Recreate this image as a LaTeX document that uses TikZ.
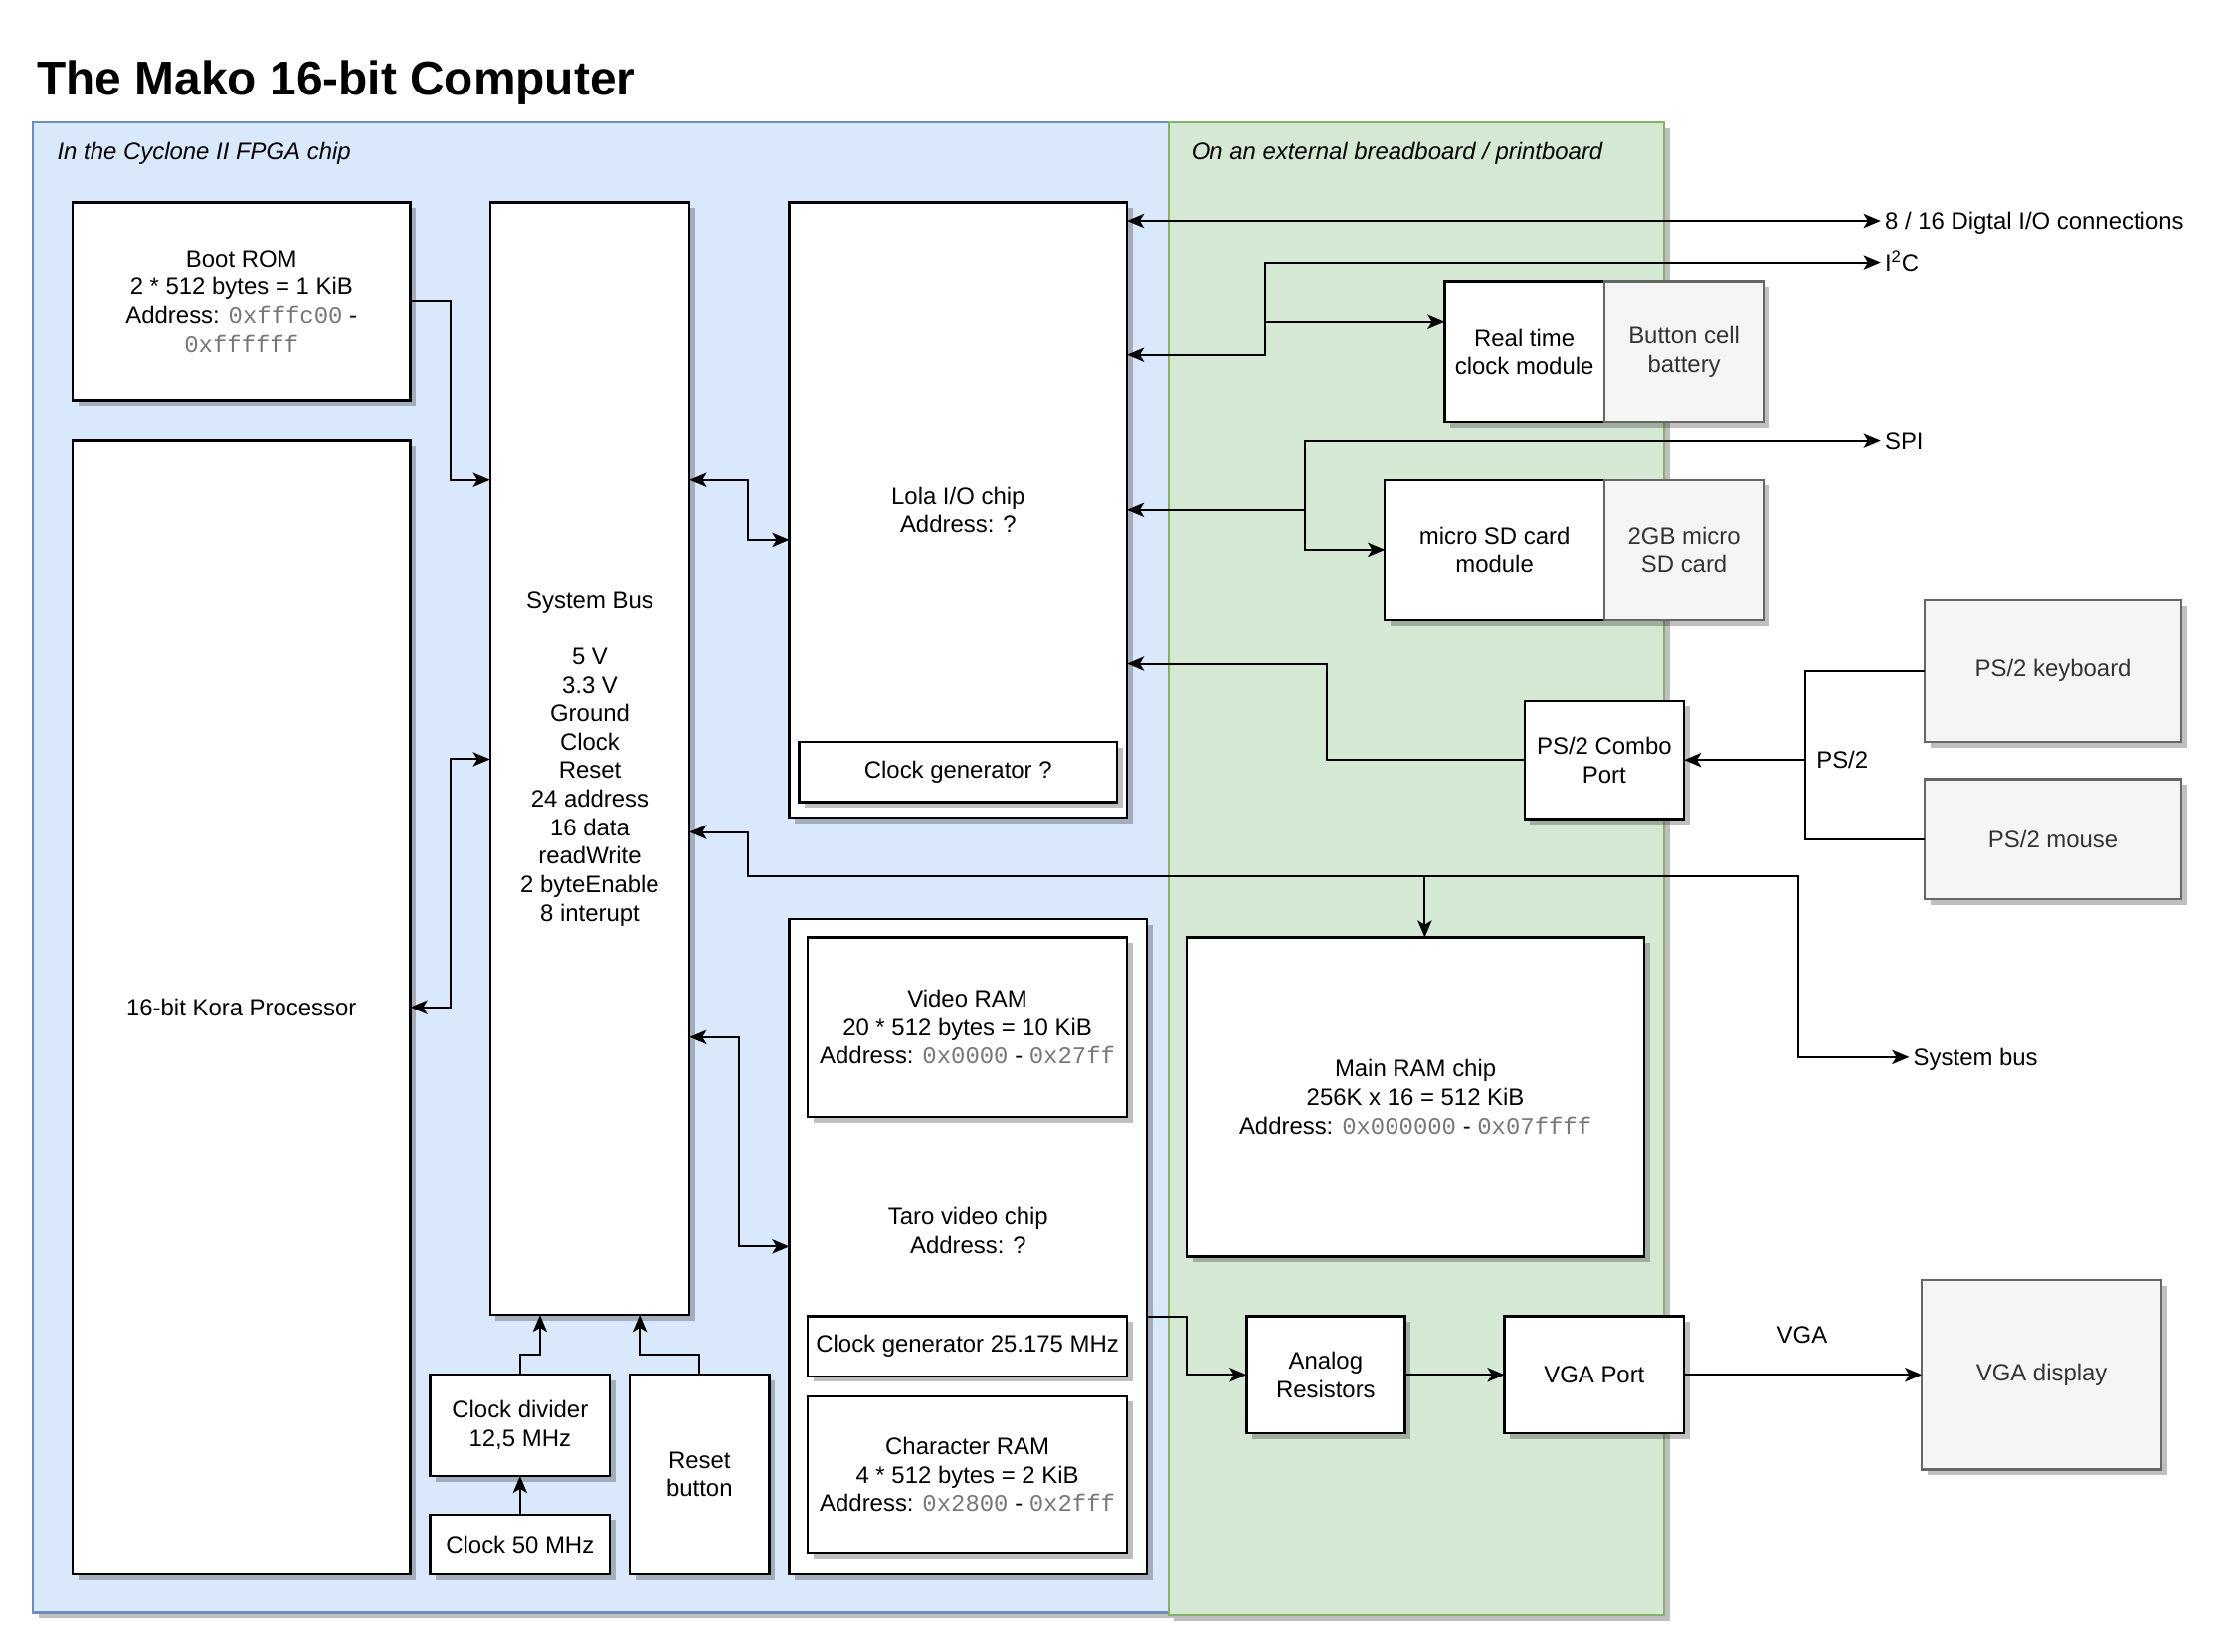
\documentclass[tikz,border=0pt]{standalone}
\usepackage{fontspec}
\setmainfont{Liberation Sans}
\setmonofont{Liberation Mono}
\usetikzlibrary{arrows.meta,shadows}
\definecolor{bluefill}{HTML}{DAE8FC}
\definecolor{bluestroke}{HTML}{6C8EBF}
\definecolor{greenfill}{HTML}{D5E8D4}
\definecolor{greenstroke}{HTML}{82B366}
\definecolor{grayfill}{HTML}{F5F5F5}
\definecolor{graystroke}{HTML}{666666}
\definecolor{graytext}{HTML}{333333}
\definecolor{addrgray}{HTML}{777777}
\newcommand\mybodyfont{\fontsize{16.7}{20}\selectfont}
\newcommand\mytitlefont{\fontsize{33.4}{40}\selectfont\bfseries}
\newcommand\mkaddr[1]{{\ttfamily\color{addrgray}#1}}
\begin{document}
\begin{tikzpicture}[x=1pt,y=-1pt,
  shad/.style={drop shadow={shadow xshift=4pt,shadow yshift=-4pt,fill=black,opacity=.25}},
  container/.style={shad,line width=1.5pt,outer sep=0pt,inner sep=0pt},
  box/.style={shad,draw=black,fill=white,line width=1.6pt,outer sep=0pt,inner sep=2pt,align=center,font=\mybodyfont},
  graybox/.style={box,draw=graystroke,fill=grayfill,text=graytext},
  lbl/.style={font=\mybodyfont,inner sep=2pt,outer sep=0pt,text height=12pt,text depth=0pt},
  conn/.style={line width=1.4pt},
  arr/.style={conn,-{Stealth[length=12pt,width=10pt,inset=3pt]}},
  biarr/.style={conn,{Stealth[length=12pt,width=10pt,inset=3pt]}-{Stealth[length=12pt,width=10pt,inset=3pt]}}]
\useasboundingbox (0,0) rectangle (1568,1159);

% title
\node[anchor=base west,font=\mytitlefont,inner sep=0pt] (title) at (26,67) {The Mako 16-bit Computer};

% containers
\node[container,draw=bluestroke,fill=bluefill,minimum width=797pt,minimum height=1046pt] (fpga) at (421.5,609) {};
\node[container,draw=greenstroke,fill=greenfill,minimum width=348pt,minimum height=1048pt] (board) at (994,610) {};
\node[anchor=base west,font=\mybodyfont\itshape,inner sep=0pt] (fpgalbl) at (40,112) {In the Cyclone II FPGA chip};
\node[anchor=base west,font=\mybodyfont\itshape,inner sep=0pt] (boardlbl) at (836,112) {On an external breadboard / printboard};

% FPGA blocks
\node[box,minimum width=237pt,minimum height=139pt] (bootrom) at (169.5,211.5) {Boot ROM\\2 * 512 bytes = 1 KiB\\Address: \mkaddr{0xfffc00} -\\\mkaddr{0xffffff}};
\node[box,minimum width=237pt,minimum height=796pt] (kora) at (169.5,707) {16-bit Kora Processor};
\node[box,minimum width=140pt,minimum height=781pt] (bus) at (414,532.5) {System Bus\\\mbox{}\\5 V\\3.3 V\\Ground\\Clock\\Reset\\24 address\\16 data\\readWrite\\2 byteEnable\\8 interupt};
\node[box,minimum width=237pt,minimum height=432pt] (lola) at (672.5,358) {Lola I/O chip\\Address: ?};
\node[box,minimum width=223pt,minimum height=42pt] (clkq) at (672.5,542) {Clock generator ?};
\node[box,minimum width=251pt,minimum height=460pt] (taro) at (679.5,875) {};
\node[font=\mybodyfont,align=center,inner sep=0pt] (tarolbl) at (679.5,864) {Taro video chip\\Address: ?};
\node[box,minimum width=224pt,minimum height=126pt] (vram) at (679,721) {Video RAM\\20 * 512 bytes = 10 KiB\\Address: \mkaddr{0x0000} - \mkaddr{0x27ff}};
\node[box,minimum width=224pt,minimum height=42pt] (clkgen) at (679,945) {Clock generator 25.175 MHz};
\node[box,minimum width=224pt,minimum height=110pt] (charram) at (679,1035) {Character RAM\\4 * 512 bytes = 2 KiB\\Address: \mkaddr{0x2800} - \mkaddr{0x2fff}};
\node[box,minimum width=126pt,minimum height=71pt] (clkdiv) at (365,1000.5) {Clock divider\\12,5 MHz};
\node[box,minimum width=126pt,minimum height=42pt] (clk50) at (365,1084) {Clock 50 MHz};
\node[box,minimum width=98pt,minimum height=140pt] (reset) at (491,1035) {Reset\\button};

% external blocks
\node[box,minimum width=112pt,minimum height=98pt] (rtc) at (1070,247) {Real time\\clock module};
\node[graybox,minimum width=112pt,minimum height=98pt] (battery) at (1182,247) {Button cell\\battery};
\node[box,minimum width=154pt,minimum height=98pt] (sdmod) at (1049,386) {micro SD card\\module};
\node[graybox,minimum width=112pt,minimum height=98pt] (sdcard) at (1182,386) {2GB micro\\SD card};
\node[box,minimum width=112pt,minimum height=83pt] (ps2port) at (1126,533.5) {PS/2 Combo\\Port};
\node[graybox,minimum width=180pt,minimum height=100pt] (keyboard) at (1441,471) {PS/2 keyboard};
\node[graybox,minimum width=180pt,minimum height=84pt] (mouse) at (1441,589) {PS/2 mouse};
\node[box,minimum width=321pt,minimum height=224pt] (mainram) at (993.5,770) {Main RAM chip\\256K x 16 = 512 KiB\\Address: \mkaddr{0x000000} - \mkaddr{0x07ffff}};
\node[box,minimum width=111pt,minimum height=82pt] (analog) at (930.5,965) {Analog\\Resistors};
\node[box,minimum width=126pt,minimum height=82pt] (vgaport) at (1119,965) {VGA Port};
\node[graybox,minimum width=168pt,minimum height=133pt] (vgadisp) at (1433,965) {VGA display};

% free ends and labels
\coordinate (dioend) at (1320,155);
\coordinate (i2cend) at (1320,184);
\coordinate (spiend) at (1320,309);
\coordinate (sysend) at (1340,742);
\node[lbl,anchor=west] (diolbl) at (1321,155) {8 / 16 Digtal I/O connections};
\node[lbl,anchor=west] (i2clbl) at (1321,184) {I\textsuperscript{2}C};
\node[lbl,anchor=west] (spilbl) at (1321,309) {SPI};
\node[lbl,anchor=west] (syslbl) at (1341,742) {System bus};
\node[lbl,anchor=west] (ps2lbl) at (1273,533) {PS/2};
\node[lbl] (vgalbl) at (1265,937) {VGA};

% connectors: system bus side
\draw[arr] (bootrom.east) -- (316,211.5) |- (bus.west |- 0,337);
\draw[biarr] (bus.west |- 0,533) -- (316,533) |- (kora.east |- 0,707);
\draw[biarr] (bus.east |- 0,337) -- (525,337) |- (lola.west |- 0,379);
\draw[biarr] (bus.east |- 0,728) -- (519,728) |- (taro.west |- 0,875);
\draw[biarr] (bus.east |- 0,584) -- (525,584) |- (1262,615) |- (sysend);
\draw[arr] (1000,615) -- (1000,615 |- mainram.north);
\draw[arr] (clkdiv.north) -- (365,951) -| (bus.south -| 379,0);
\draw[arr] (reset.north) -- (491,951) -| (bus.south -| 449,0);
\draw[arr] (clk50.north) -- (clkdiv.south);

% Lola connectors
\draw[biarr] (lola.east |- 0,155) -- (dioend);
\draw[biarr] (lola.east |- 0,249) -- (888,249) |- (i2cend);
\draw[arr] (888,226) -- (rtc.west |- 0,226);
\draw[biarr] (lola.east |- 0,358) -- (916,358) |- (spiend);
\draw[arr] (916,358) |- (sdmod.west |- 0,386);
\draw[arr] (ps2port.west) -| (931,466) -- (lola.east |- 0,466);
\draw[arr] (1267,533.5) -- (ps2port.east);
\draw[conn] (keyboard.west) -| (1267,589) -- (mouse.west);

% video
\draw[arr] (taro.east |- 0,924) -- (833,924) |- (analog.west);
\draw[arr] (analog.east) -- (vgaport.west);
\draw[arr] (vgaport.east) -- (vgadisp.west |- vgaport.east);
\end{tikzpicture}
\end{document}
